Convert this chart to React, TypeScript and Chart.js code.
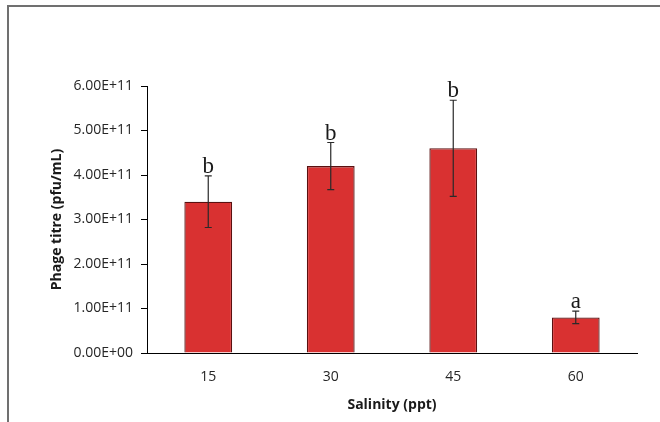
import React, { useEffect, useRef } from "react";
import { Chart, registerables } from "chart.js";

Chart.register(...registerables);

const categories = ["15", "30", "45", "60"];
const titreValues = [3.4e11, 4.2e11, 4.6e11, 0.8e11];
const titreErrors = [0.58e11, 0.53e11, 1.08e11, 0.14e11];
const groupLetters = ["b", "b", "b", "a"];
const yMax = 6e11;
const yStep = 1e11;

function sci(v: number): string {
  if (v === 0) return "0.00E+00";
  const e = Math.floor(Math.log10(Math.abs(v)) + 1e-9);
  const m = v / Math.pow(10, e);
  const es = (e < 0 ? "-" : "+") + String(Math.abs(e)).padStart(2, "0");
  return m.toFixed(2) + "E" + es;
}

const errorBarPlugin = {
  id: "errorBarsLetters",
  afterDatasetsDraw(chart: any) {
    const ctx = chart.ctx;
    const meta = chart.getDatasetMeta(0);
    const y = chart.scales.y;
    ctx.save();
    meta.data.forEach((bar: any, i: number) => {
      const x = bar.x;
      const top = y.getPixelForValue(titreValues[i] + titreErrors[i]);
      const bot = y.getPixelForValue(titreValues[i] - titreErrors[i]);
      ctx.strokeStyle = "#2a2a2a";
      ctx.lineWidth = 1.2;
      ctx.beginPath();
      ctx.moveTo(x, top);
      ctx.lineTo(x, bot);
      ctx.moveTo(x - 3.5, top);
      ctx.lineTo(x + 3.5, top);
      ctx.moveTo(x - 3.5, bot);
      ctx.lineTo(x + 3.5, bot);
      ctx.stroke();
      ctx.fillStyle = "#1a1a1a";
      ctx.font = "23px 'Liberation Serif'";
      ctx.textAlign = "center";
      ctx.textBaseline = "alphabetic";
      ctx.fillText(groupLetters[i], x, top - 3);
    });
    ctx.restore();
  },
};

export default function App() {
  const ref = useRef<HTMLCanvasElement | null>(null);
  useEffect(() => {
    if (!ref.current) return;
    const chart = new Chart(ref.current, {
      type: "bar",
      data: {
        labels: categories,
        datasets: [
          {
            data: titreValues,
            backgroundColor: "#d93131",
            borderColor: "#5a1010",
            borderWidth: 1.3,
            barPercentage: 0.39,
            categoryPercentage: 1,
          },
        ],
      },
      options: {
        animation: false,
        responsive: false,
        maintainAspectRatio: false,
        layout: { padding: { left: 49, right: 23, top: 86, bottom: 9 } },
        plugins: { legend: { display: false }, tooltip: { enabled: false } },
        scales: {
          x: {
            grid: { display: false, drawTicks: false },
            border: { display: true, color: "#000", width: 1 },
            ticks: {
              padding: 16,
              color: "#262626",
              font: { family: "'Open Sans'", size: 14 },
            },
            title: {
              display: true,
              text: "Salinity (ppt)",
              color: "#1a1a1a",
              font: { family: "'Open Sans'", size: 14, weight: "bold" },
              padding: { top: 0, bottom: 0 },
            },
            afterFit: (s: any) => {
              s.height = 60;
            },
          },
          y: {
            min: 0,
            max: yMax,
            grid: {
              display: true,
              drawOnChartArea: false,
              drawTicks: true,
              tickLength: 6,
              color: "#000",
            },
            border: { display: true, color: "#000", width: 1 },
            ticks: {
              stepSize: yStep,
              padding: 8,
              color: "#262626",
              font: { family: "'Open Sans'", size: 14 },
              callback: (v: any) => sci(Number(v)),
            },
            title: {
              display: true,
              text: "Phage titre (pfu/mL)",
              color: "#1a1a1a",
              font: { family: "'Open Sans'", size: 14, weight: "bold" },
              padding: { top: 0, bottom: 0 },
            },
            afterFit: (s: any) => {
              s.width = 98;
            },
          },
        },
      },
      plugins: [errorBarPlugin],
    });
    return () => chart.destroy();
  }, []);
  return (
    <div
      style={{
        position: "fixed",
        left: 0,
        top: 0,
        width: 660,
        height: 422,
        background: "#fff",
      }}
    >
      <div
        style={{
          position: "absolute",
          left: 7,
          top: 5,
          width: 653,
          height: 417,
          borderTop: "2px solid #707070",
          borderLeft: "2px solid #707070",
          boxSizing: "border-box",
        }}
      />
      <canvas
        ref={ref}
        width={660}
        height={422}
        style={{ position: "absolute", left: 0, top: 0, width: 660, height: 422 }}
      />
    </div>
  );
}
